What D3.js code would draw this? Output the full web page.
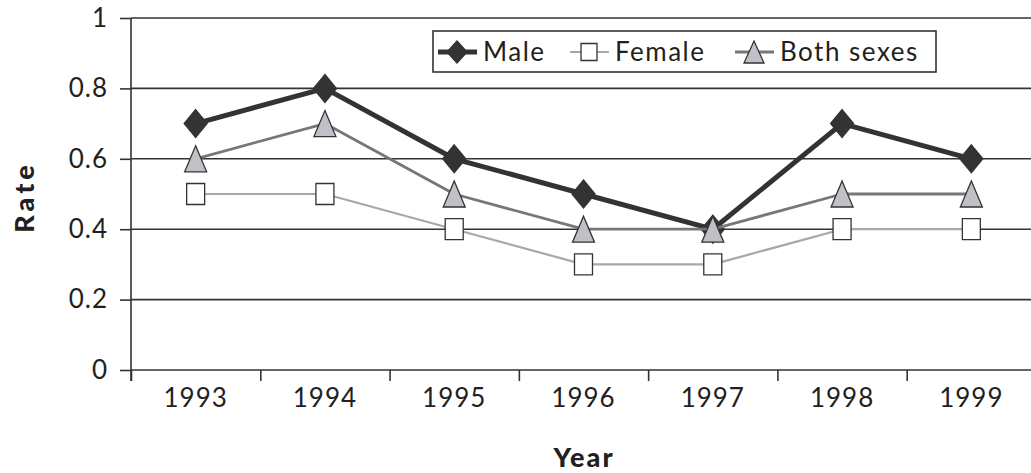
<!DOCTYPE html>
<html>
<head>
<meta charset="utf-8">
<script src="https://cdn.jsdelivr.net/npm/d3@7"></script>
<style>
  body { margin: 0; background: #fff; }
  text { font-family: Lato, "Open Sans", sans-serif; fill: #231f20; }
</style>
</head>
<body>
<div id="chart"></div>
<script>
var years = ['1993', '1994', '1995', '1996', '1997', '1998', '1999'];
var male = [0.7, 0.8, 0.6, 0.5, 0.4, 0.7, 0.6];
var female = [0.5, 0.5, 0.4, 0.3, 0.3, 0.4, 0.4];
var both = [0.6, 0.7, 0.5, 0.4, 0.4, 0.5, 0.5];
var yTicks = [0, 0.2, 0.4, 0.6, 0.8, 1];
var seriesNames = ['Male', 'Female', 'Both sexes'];

var W = 1031, H = 473;
var margin = { top: 18, right: -5, bottom: 103, left: 131 };
var width = W - margin.left - margin.right,
    height = H - margin.top - margin.bottom;

var svg = d3.select('#chart').append('svg')
  .attr('width', W).attr('height', H);
var g = svg.append('g')
  .attr('transform', 'translate(' + margin.left + ',' + margin.top + ')');

var x = d3.scaleBand().domain(years).range([0, width]);
var xEdge = d3.scaleLinear().domain([0, years.length]).range([0, width]);
var y = d3.scaleLinear().domain([0, 1]).range([height, 0]);

// marker shapes (wider than d3's built-ins)
function diamond(hw, hh) {
  return { draw: function(c) {
    c.moveTo(0, -hh); c.lineTo(hw, 0); c.lineTo(0, hh); c.lineTo(-hw, 0); c.closePath();
  } };
}
function box(hw, hh) {
  return { draw: function(c) {
    c.moveTo(-hw, -hh); c.lineTo(hw, -hh); c.lineTo(hw, hh); c.lineTo(-hw, hh); c.closePath();
  } };
}
function tri(hw, hh) {
  return { draw: function(c) {
    c.moveTo(0, -hh); c.lineTo(hw, hh); c.lineTo(-hw, hh); c.closePath();
  } };
}

// horizontal gridlines
g.selectAll('line.grid')
  .data(yTicks.filter(function(d) { return d > 0; }))
  .enter().append('line')
  .attr('class', 'grid')
  .attr('x1', 0).attr('x2', width)
  .attr('y1', function(d) { return y(d); })
  .attr('y2', function(d) { return y(d); })
  .style('stroke', '#333').style('stroke-width', 1.6);

// y axis
var yAxis = g.append('g')
  .call(d3.axisLeft(y).tickValues(yTicks).tickSize(11).tickPadding(12)
    .tickFormat(function(d) { return d3.format('')(d); }));
yAxis.select('.domain').attr('d', 'M0,0V' + (height + 11));
yAxis.selectAll('line, path').style('stroke', '#333').style('stroke-width', 1.6);
yAxis.selectAll('text').style('font-size', '26px').style('letter-spacing', '1px');

// x axis: edge ticks + labels
var xTicksAxis = g.append('g')
  .attr('transform', 'translate(0,' + height + ')')
  .call(d3.axisBottom(xEdge).tickValues(d3.range(years.length + 1)).tickSize(11).tickFormat(''));
xTicksAxis.select('.domain').attr('d', 'M0,0H' + width);
xTicksAxis.selectAll('line, path').style('stroke', '#333').style('stroke-width', 1.6);

var xLab = g.append('g')
  .attr('transform', 'translate(0,' + height + ')')
  .call(d3.axisBottom(x).tickSize(0).tickPadding(19));
xLab.select('.domain').remove();
xLab.selectAll('text').style('font-size', '26px').style('letter-spacing', '1px');

// axis titles
svg.append('text')
  .attr('transform', 'translate(34,' + (margin.top + height / 2 + 3) + ') rotate(-90)')
  .attr('text-anchor', 'middle')
  .style('font-size', '27px').style('font-weight', 900).style('letter-spacing', '4px')
  .text('Rate');
svg.append('text')
  .attr('x', 584).attr('y', 467)
  .attr('text-anchor', 'middle')
  .style('font-size', '27px').style('font-weight', 900).style('letter-spacing', '2px')
  .text('Year');

var cx = function(d, i) { return x(years[i]) + x.bandwidth() / 2; };
var line = d3.line().x(cx).y(function(d) { return y(d); });

var styles = [
  { data: male, stroke: '#333', sw: 5, shape: diamond(11.5, 14), lshape: diamond(10, 11), fill: '#333', mstroke: '#333' },
  { data: female, stroke: '#aaa7ab', sw: 2.2, shape: box(9, 10.5), lshape: box(8, 8.5), fill: '#fff', mstroke: '#333' },
  { data: both, stroke: '#777', sw: 2.8, shape: tri(11, 13), lshape: tri(10, 11), fill: '#c3bfc6', mstroke: '#333' }
];

styles.forEach(function(s) {
  g.append('path')
    .datum(s.data)
    .attr('d', line)
    .style('fill', 'none')
    .style('stroke', s.stroke)
    .style('stroke-width', s.sw)
    .style('stroke-linejoin', 'round');
  g.selectAll(null)
    .data(s.data)
    .enter().append('path')
    .attr('d', d3.symbol().type(s.shape))
    .attr('transform', function(d, i) {
      return 'translate(' + cx(d, i) + ',' + y(d) + ')';
    })
    .style('fill', s.fill)
    .style('stroke', s.mstroke)
    .style('stroke-width', 1.3);
});

// legend
var legend = svg.append('g');
legend.append('rect')
  .attr('x', 433).attr('y', 31).attr('width', 503).attr('height', 41)
  .style('fill', '#fff').style('stroke', '#333').style('stroke-width', 1.6);
var legendX = [438, 570, 735];
styles.forEach(function(s, i) {
  var lx = legendX[i];
  var lg = legend.append('g').attr('transform', 'translate(' + lx + ',52)');
  lg.append('line').attr('x1', 0).attr('x2', 39)
    .style('stroke', s.stroke).style('stroke-width', s.sw);
  lg.append('path')
    .attr('d', d3.symbol().type(s.lshape))
    .attr('transform', 'translate(19,0)')
    .style('fill', s.fill).style('stroke', s.mstroke).style('stroke-width', 1.3);
  lg.append('text')
    .attr('x', 45).attr('dy', '0.36em')
    .style('font-size', '26px').style('letter-spacing', '1.5px')
    .text(seriesNames[i]);
});
</script>
</body>
</html>
